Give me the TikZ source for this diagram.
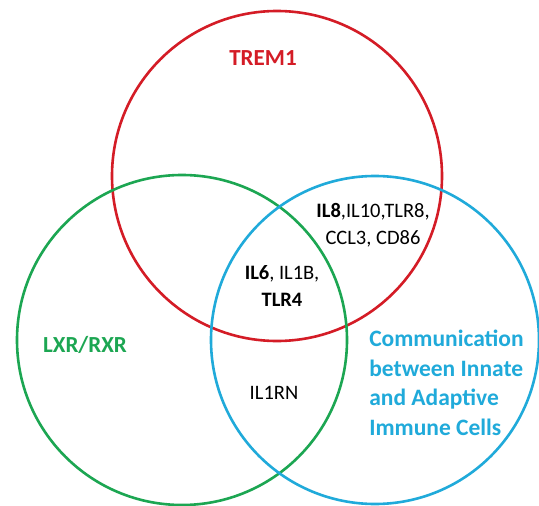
\documentclass[tikz,border=0pt]{standalone}
\usepackage{fontspec}
\setmainfont{Carlito}
\definecolor{tremred}{RGB}{212,28,38}
\definecolor{lxrgreen}{RGB}{28,166,82}
\definecolor{cellblue}{RGB}{32,170,218}
\tikzset{
  setname/.style={font=\fontsize{23}{28}\selectfont\bfseries},
  genes/.style={font=\fontsize{20.5}{27}\selectfont,align=center,text=black}
}
\begin{document}
\begin{tikzpicture}[x=1pt,y=-1pt,line width=2.6pt]
  \useasboundingbox[fill=white] (0,0) rectangle (539,506);
  \draw (277,176) circle(165)[color=tremred];
  \draw (182,340) circle(165)[color=lxrgreen];
  \draw (375,340) circle(164)[color=cellblue];

  \node[setname,text=tremred] (trem) at (263,58) {TREM1};
  \node[setname,text=lxrgreen] (lxr) at (85,345) {LXR/RXR};
  \node[setname,text=cellblue,align=left,anchor=west,inner sep=0pt,
    font=\fontsize{23.5}{29.5}\selectfont\bfseries] (comm) at (368,383)
    {Communication\\between Innate\\and Adaptive\\Immune Cells};

  \node[genes] (redblue) at (373,225) {\textbf{IL8},IL10,TLR8,\\CCL3, CD86};
  \node[genes] (allthree) at (282,286) {\textbf{IL6}, IL1B,\\\textbf{TLR4}};
  \node[genes] (greenblue) at (274,393) {IL1RN};
\end{tikzpicture}
\end{document}
